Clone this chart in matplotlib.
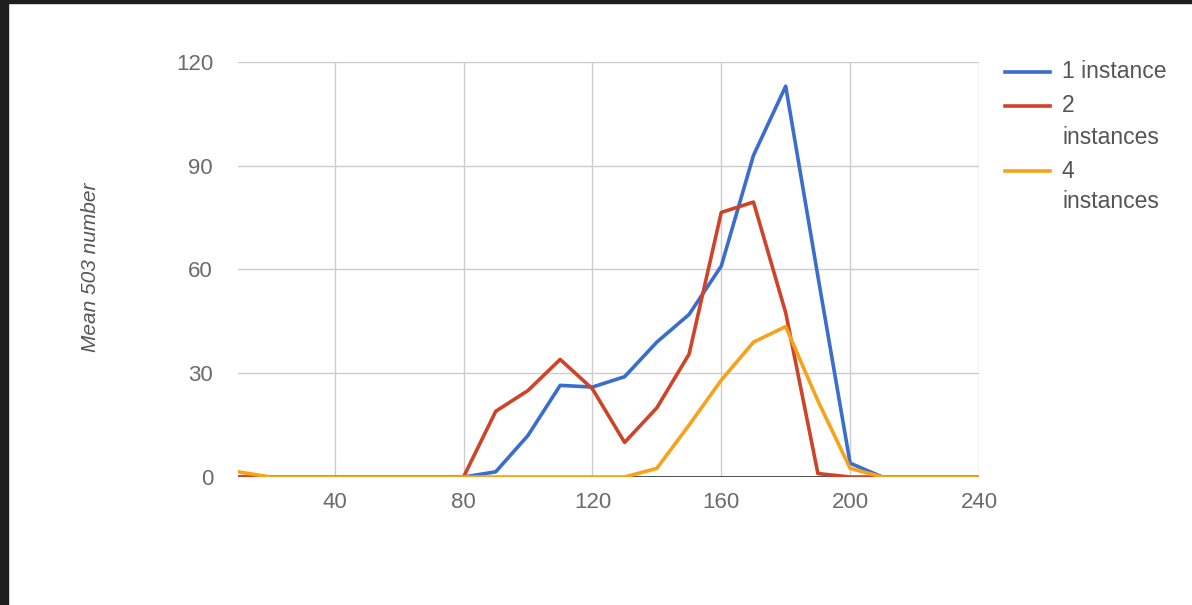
import numpy as np
import matplotlib.pyplot as plt
from matplotlib.patches import Rectangle
from matplotlib.lines import Line2D

plt.rcParams['font.family'] = ['Liberation Sans', 'DejaVu Sans']

# x values: 10, 20, ..., 240
x = list(range(10, 250, 10))

# Mean 503 number per series
one_instance = [0, 0, 0, 0, 0, 0, 0, 0, 1.5, 12, 26.5, 26, 29, 39, 47, 61,
                93, 113, 58, 4, 0, 0, 0, 0]
two_instances = [0, 0, 0, 0, 0, 0, 0, 0, 19, 25, 34, 25.5, 10, 20, 35.5, 76.5,
                 79.5, 47.5, 1, 0, 0, 0, 0, 0]
four_instances = [1.5, 0, 0, 0, 0, 0, 0, 0, 0, 0, 0, 0, 0, 2.5, 15, 28,
                  39, 43.5, 22, 2.5, 0, 0, 0, 0]

labels = ['1 instance', '2\ninstances', '4\ninstances']
colors = ['#3a6dce', '#cf4428', '#f7a21b']

xticks = [40, 80, 120, 160, 200, 240]
yticks = [0, 30, 60, 90, 120]

W, H = 1192, 605
fig = plt.figure(figsize=(W / 100, H / 100), dpi=100)
ax = fig.add_axes([238 / W, 1 - 477 / H, (979 - 238) / W, (477 - 62) / H])

# screenshot border (dark strip left and top)
fig.patches.append(Rectangle((0, 0), 8 / W, 1, transform=fig.transFigure,
                             color='#1e1e1e', zorder=10))
fig.patches.append(Rectangle((0, 1 - 3 / H), 1, 3 / H, transform=fig.transFigure,
                             color='#1e1e1e', zorder=10))

series = [one_instance, two_instances, four_instances]
for i, (ys, lab, c) in enumerate(zip(series, labels, colors)):
    ax.plot(x, ys, color=c, lw=2.6, label=lab, zorder=3 + i)

ax.axhline(0, color='#333333', lw=1.2, zorder=2)

ax.set_xlim(10, 240)
ax.set_ylim(0, 120)
ax.set_xticks(xticks)
ax.set_yticks(yticks)
ax.grid(True, color='#cccccc', lw=1)
ax.set_axisbelow(True)
for s in ax.spines.values():
    s.set_visible(False)
ax.tick_params(length=0, labelsize=16, labelcolor='#6b6b6b')
ax.tick_params(axis='y', pad=18)
ax.tick_params(axis='x', pad=11)

fig.text(90 / W, 1 - 267 / H, 'Mean 503 number', fontsize=15, style='italic',
         color='#555555', rotation=90, ha='center', va='center')

# legend, google-charts style: handle next to the first line of a wrapped label
row_y = 72
for lab, c in zip(labels, colors):
    fig.add_artist(Line2D([1005 / W, 1050 / W], [1 - row_y / H] * 2, color=c, lw=2.6))
    for line in lab.split('\n'):
        fig.text(1062 / W, 1 - row_y / H, line, fontsize=16.5, color='#555555',
                 ha='left', va='center')
        row_y += 31
    row_y += 3

fig.savefig('out.png', dpi=100, facecolor='white')
